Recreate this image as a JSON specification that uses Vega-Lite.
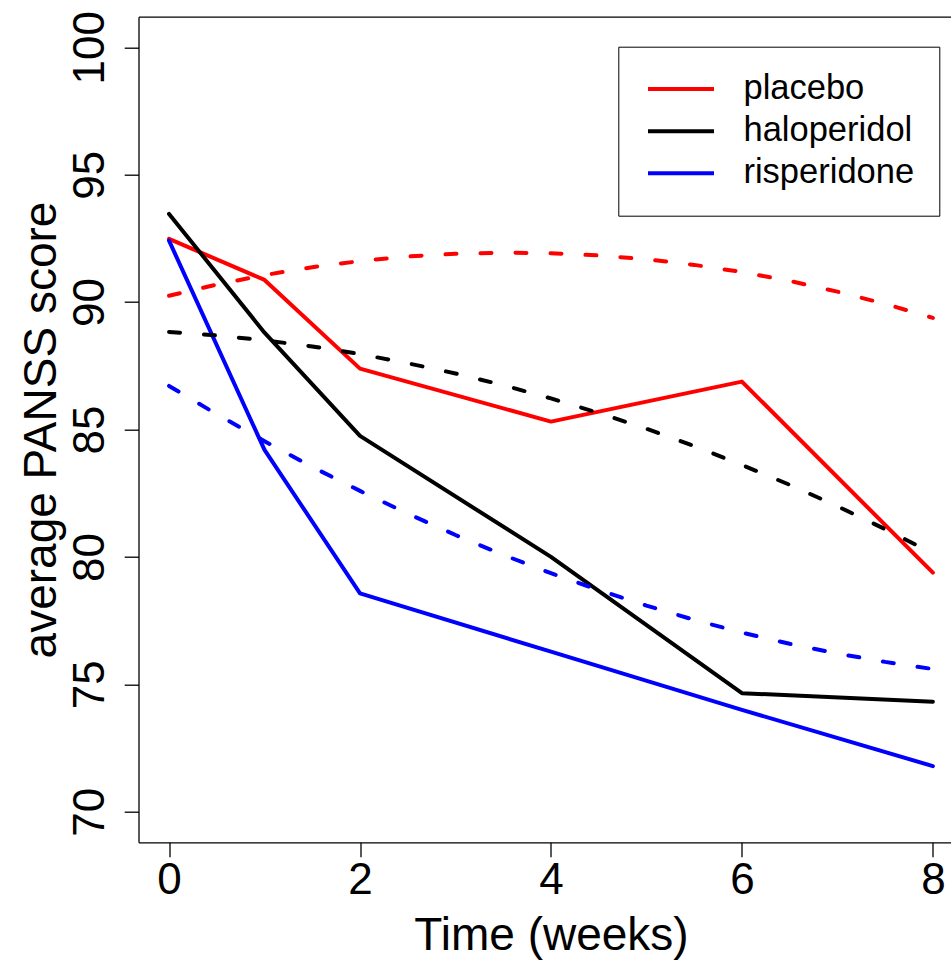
{
  "$schema": "https://vega.github.io/schema/vega-lite/v6.json",
  "width": 812.5,
  "height": 825.6,
  "autosize": {"type": "none"},
  "padding": {"left": 138.5, "top": 16.7, "right": 0, "bottom": 117.7},
  "background": "white",
  "config": {
    "view": {"stroke": null},
    "font": "Liberation Sans",
    "axis": {"grid": false, "domainColor": "black", "domainWidth": 1.3, "tickColor": "black", "tickWidth": 1.3, "labelColor": "black", "titleColor": "black", "labelFont": "Liberation Sans", "titleFont": "Liberation Sans", "labelFlush": false, "labelOverlap": false, "labelBound": false}
  },
  "data": {
    "values": [
      {"drug": "placebo", "kind": "observed", "week": 0, "score": 92.48},
      {"drug": "placebo", "kind": "observed", "week": 1, "score": 90.87},
      {"drug": "placebo", "kind": "observed", "week": 2, "score": 87.39},
      {"drug": "placebo", "kind": "observed", "week": 4, "score": 85.31},
      {"drug": "placebo", "kind": "observed", "week": 6, "score": 86.88},
      {"drug": "placebo", "kind": "observed", "week": 8, "score": 79.38},
      {"drug": "haloperidol", "kind": "observed", "week": 0, "score": 93.46},
      {"drug": "haloperidol", "kind": "observed", "week": 1, "score": 88.8},
      {"drug": "haloperidol", "kind": "observed", "week": 2, "score": 84.75},
      {"drug": "haloperidol", "kind": "observed", "week": 4, "score": 80.0},
      {"drug": "haloperidol", "kind": "observed", "week": 6, "score": 74.65},
      {"drug": "haloperidol", "kind": "observed", "week": 8, "score": 74.32},
      {"drug": "risperidone", "kind": "observed", "week": 0, "score": 92.41},
      {"drug": "risperidone", "kind": "observed", "week": 1, "score": 84.2},
      {"drug": "risperidone", "kind": "observed", "week": 2, "score": 78.57},
      {"drug": "risperidone", "kind": "observed", "week": 4, "score": 76.28},
      {"drug": "risperidone", "kind": "observed", "week": 6, "score": 74.0},
      {"drug": "risperidone", "kind": "observed", "week": 8, "score": 71.79},
      {"drug": "placebo", "kind": "fitted", "week": 0, "score": 90.25},
      {"drug": "placebo", "kind": "fitted", "week": 0.5, "score": 90.69},
      {"drug": "placebo", "kind": "fitted", "week": 1, "score": 91.06},
      {"drug": "placebo", "kind": "fitted", "week": 1.5, "score": 91.37},
      {"drug": "placebo", "kind": "fitted", "week": 2, "score": 91.61},
      {"drug": "placebo", "kind": "fitted", "week": 2.5, "score": 91.79},
      {"drug": "placebo", "kind": "fitted", "week": 3, "score": 91.9},
      {"drug": "placebo", "kind": "fitted", "week": 3.5, "score": 91.94},
      {"drug": "placebo", "kind": "fitted", "week": 4, "score": 91.92},
      {"drug": "placebo", "kind": "fitted", "week": 4.5, "score": 91.83},
      {"drug": "placebo", "kind": "fitted", "week": 5, "score": 91.68},
      {"drug": "placebo", "kind": "fitted", "week": 5.5, "score": 91.46},
      {"drug": "placebo", "kind": "fitted", "week": 6, "score": 91.18},
      {"drug": "placebo", "kind": "fitted", "week": 6.5, "score": 90.83},
      {"drug": "placebo", "kind": "fitted", "week": 7, "score": 90.41},
      {"drug": "placebo", "kind": "fitted", "week": 7.5, "score": 89.93},
      {"drug": "placebo", "kind": "fitted", "week": 8, "score": 89.38},
      {"drug": "haloperidol", "kind": "fitted", "week": 0, "score": 88.83},
      {"drug": "haloperidol", "kind": "fitted", "week": 0.5, "score": 88.69},
      {"drug": "haloperidol", "kind": "fitted", "week": 1, "score": 88.5},
      {"drug": "haloperidol", "kind": "fitted", "week": 1.5, "score": 88.26},
      {"drug": "haloperidol", "kind": "fitted", "week": 2, "score": 87.96},
      {"drug": "haloperidol", "kind": "fitted", "week": 2.5, "score": 87.6},
      {"drug": "haloperidol", "kind": "fitted", "week": 3, "score": 87.2},
      {"drug": "haloperidol", "kind": "fitted", "week": 3.5, "score": 86.74},
      {"drug": "haloperidol", "kind": "fitted", "week": 4, "score": 86.22},
      {"drug": "haloperidol", "kind": "fitted", "week": 4.5, "score": 85.65},
      {"drug": "haloperidol", "kind": "fitted", "week": 5, "score": 85.03},
      {"drug": "haloperidol", "kind": "fitted", "week": 5.5, "score": 84.35},
      {"drug": "haloperidol", "kind": "fitted", "week": 6, "score": 83.61},
      {"drug": "haloperidol", "kind": "fitted", "week": 6.5, "score": 82.83},
      {"drug": "haloperidol", "kind": "fitted", "week": 7, "score": 81.99},
      {"drug": "haloperidol", "kind": "fitted", "week": 7.5, "score": 81.09},
      {"drug": "haloperidol", "kind": "fitted", "week": 8, "score": 80.14},
      {"drug": "risperidone", "kind": "fitted", "week": 0, "score": 86.71},
      {"drug": "risperidone", "kind": "fitted", "week": 0.5, "score": 85.6},
      {"drug": "risperidone", "kind": "fitted", "week": 1, "score": 84.54},
      {"drug": "risperidone", "kind": "fitted", "week": 1.5, "score": 83.53},
      {"drug": "risperidone", "kind": "fitted", "week": 2, "score": 82.59},
      {"drug": "risperidone", "kind": "fitted", "week": 2.5, "score": 81.7},
      {"drug": "risperidone", "kind": "fitted", "week": 3, "score": 80.86},
      {"drug": "risperidone", "kind": "fitted", "week": 3.5, "score": 80.08},
      {"drug": "risperidone", "kind": "fitted", "week": 4, "score": 79.36},
      {"drug": "risperidone", "kind": "fitted", "week": 4.5, "score": 78.7},
      {"drug": "risperidone", "kind": "fitted", "week": 5, "score": 78.09},
      {"drug": "risperidone", "kind": "fitted", "week": 5.5, "score": 77.53},
      {"drug": "risperidone", "kind": "fitted", "week": 6, "score": 77.03},
      {"drug": "risperidone", "kind": "fitted", "week": 6.5, "score": 76.59},
      {"drug": "risperidone", "kind": "fitted", "week": 7, "score": 76.21},
      {"drug": "risperidone", "kind": "fitted", "week": 7.5, "score": 75.88},
      {"drug": "risperidone", "kind": "fitted", "week": 8, "score": 75.6}
    ]
  },
  "encoding": {
    "y": {
      "field": "score", "type": "quantitative",
      "scale": {"domain": [68.8, 101.2], "nice": false, "zero": false},
      "axis": {
        "orient": "left", "values": [70, 75, 80, 85, 90, 95, 100], "tickSize": 14.3,
        "labelAngle": -90, "labelAlign": "center", "labelBaseline": "alphabetic", "labelPadding": 21.2, "labelFontSize": 44,
        "title": "average PANSS score", "titleFontSize": 46, "titleFontWeight": "normal", "titleAngle": -90,
        "titleX": -83.5, "titleY": 412.8, "titleAlign": "center", "titleBaseline": "alphabetic"
      }
    },
    "color": {
      "field": "drug", "type": "nominal",
      "scale": {"domain": ["placebo", "haloperidol", "risperidone"], "range": ["#FF0000", "#000000", "#0000FF"]},
      "legend": {
        "title": null, "orient": "none", "legendX": 479.8, "legendY": 30, "padding": 25,
        "strokeColor": "black", "fillColor": "white", "cornerRadius": 0,
        "symbolType": "M-3,0H3", "symbolSize": 484, "symbolStrokeWidth": 4, "symbolOffset": 20.45,
        "labelOffset": 45.2, "labelFontSize": 34.5, "labelFont": "Liberation Sans", "labelColor": "black",
        "rowPadding": 7.2, "labelLimit": 0
      }
    }
  },
  "layer": [
    {
      "transform": [{"filter": "datum.kind === 'observed'"}],
      "mark": {"type": "line", "strokeWidth": 4, "strokeJoin": "round", "strokeCap": "round"},
      "encoding": {
        "x": {
          "field": "week", "type": "quantitative",
          "scale": {"domain": [-0.32, 8.19], "nice": false, "zero": false},
          "axis": {
            "orient": "bottom", "values": [0, 2, 4, 6, 8], "tickSize": 14.4,
            "labelBaseline": "alphabetic", "labelAlign": "center", "labelPadding": 36.3, "labelFontSize": 44,
            "title": "Time (weeks)", "titleFontSize": 46, "titleFontWeight": "normal",
            "titleX": 412.5, "titleY": 107.5, "titleAlign": "center", "titleBaseline": "alphabetic"
          }
        }
      }
    },
    {
      "transform": [{"filter": "datum.kind === 'fitted'"}],
      "mark": {"type": "line", "strokeWidth": 4, "strokeDash": [11, 24], "strokeCap": "round"},
      "encoding": {
        "x": {
          "field": "week", "type": "quantitative",
          "scale": {"domain": [-0.32, 8.19], "nice": false, "zero": false},
          "axis": {"orient": "top", "labels": false, "ticks": false, "title": null, "domain": true}
        }
      }
    }
  ],
  "resolve": {"axis": {"x": "independent"}}
}
